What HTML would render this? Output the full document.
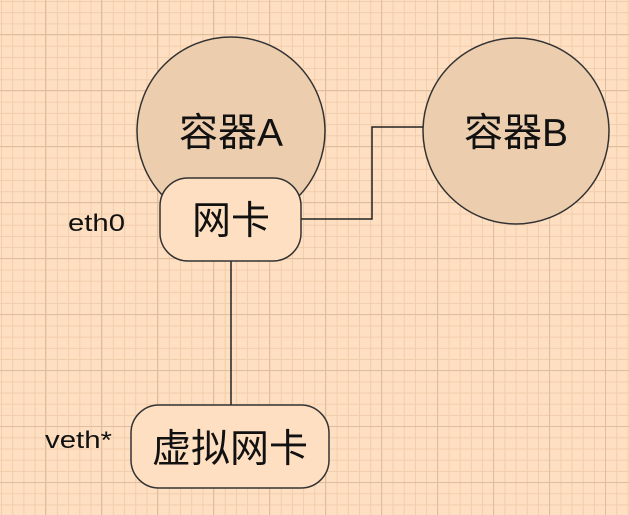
<!DOCTYPE html>
<html><head><meta charset="utf-8"><style>
html,body{margin:0;padding:0;}
body{width:629px;height:515px;overflow:hidden;background-color:#ffdfc1;
background-image:
linear-gradient(to right,#dfbd9f 1px,transparent 1px),
linear-gradient(to bottom,#dfbd9f 1px,transparent 1px),
linear-gradient(to right,#f0cdac 1px,transparent 1px),
linear-gradient(to bottom,#f0cdac 1px,transparent 1px);
background-size:56px 56px,56px 56px,11.2px 11.2px,11.2px 11.2px;
background-position:45px 0,0 34px,1px 0,0 1px;}
</style></head><body>
<svg width="629" height="515" style="position:absolute;left:0;top:0" font-family="Liberation Sans, Noto Sans CJK SC, sans-serif">
<circle cx="231" cy="131" r="94" fill="#eccdae" stroke="#333" stroke-width="1.5"/>
<circle cx="516" cy="131" r="93" fill="#eccdae" stroke="#333" stroke-width="1.5"/>
<polyline points="301,219 372,219 372,127 423,127" fill="none" stroke="#222" stroke-width="1.5"/>
<line x1="231" y1="261" x2="231" y2="405" stroke="#222" stroke-width="1.5"/>
<rect x="160" y="178" width="141" height="83" rx="28" fill="#ffdfc1" stroke="#333" stroke-width="1.5"/>
<rect x="131" y="405" width="198" height="83" rx="28" fill="#ffdfc1" stroke="#333" stroke-width="1.5"/>
<text x="231" y="146" font-size="39" text-anchor="middle" fill="#111">容器A</text>
<text x="516" y="146" font-size="39" text-anchor="middle" fill="#111">容器B</text>
<text x="231" y="234" font-size="39" text-anchor="middle" fill="#111">网卡</text>
<text x="230" y="462" font-size="39" text-anchor="middle" fill="#111">虚拟网卡</text>
<text x="68" y="231" font-size="24" fill="#111" textLength="57" lengthAdjust="spacingAndGlyphs">eth0</text>
<text x="45" y="448" font-size="24" fill="#111" textLength="67" lengthAdjust="spacingAndGlyphs">veth*</text>
</svg>
</body></html>
